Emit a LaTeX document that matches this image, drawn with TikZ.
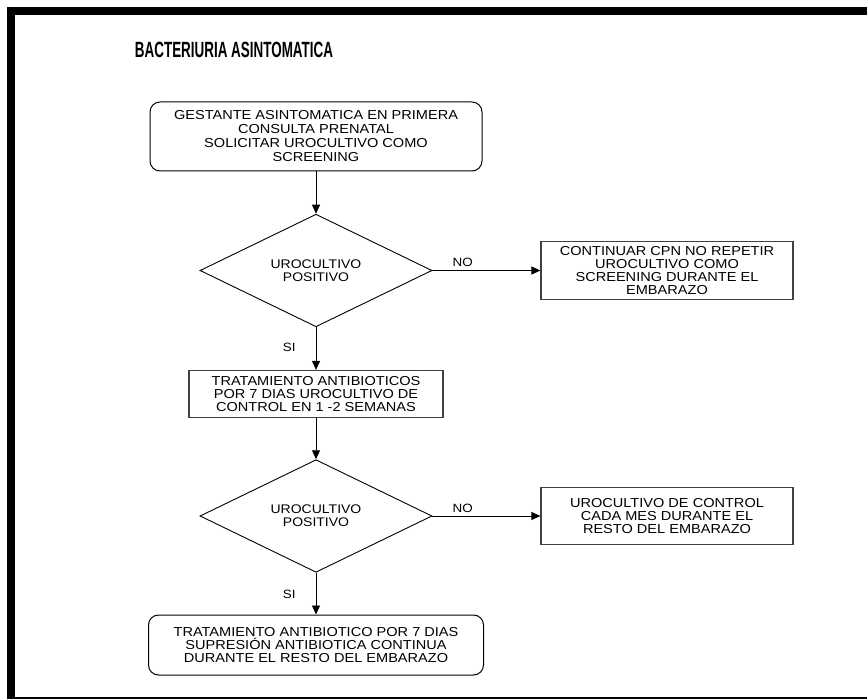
\documentclass[tikz,border=0pt]{standalone}
\usepackage{fontspec}
\setmainfont{Liberation Sans}
\newfontfamily\letraancha[FakeStretch=1.12]{Liberation Sans}
\usetikzlibrary{shapes.geometric,arrows.meta}

\tikzset{
  paso/.style={draw=black!75, line width=1.2pt, align=center, inner sep=0pt,
    font=\letraancha\fontsize{13}{13}\selectfont},
  pasoredondo/.style={paso, draw=black, line width=1pt, rounded corners=10pt},
  decision/.style={draw, diamond, line width=0.9pt, align=center, inner sep=0pt,
    minimum width=232pt, minimum height=105pt, font=\letraancha\fontsize{12.5}{13}\selectfont},
  flecha/.style={-{Triangle[length=9pt,width=8pt]}, line width=0.9pt},
  etiqueta/.style={inner sep=0pt, font=\letraancha\fontsize{12}{12}\selectfont}
}

\begin{document}
\begin{tikzpicture}[x=1pt, y=-1pt]
\useasboundingbox (0,0) rectangle (867,700);
% marco
\fill (7,7) rectangle (867,15);
\fill (7,7) rectangle (15,698);
\fill (7,696.5) rectangle (867,698.5);

\node (titulo) at (234,50) {\scalebox{0.64}[1.05]{\fontsize{21}{21}\selectfont\bfseries BACTERIURIA ASINTOMATICA}};

\node [pasoredondo, minimum width=332pt, minimum height=69pt, font=\letraancha\fontsize{13}{14}\selectfont] (inicio) at (316,136.5)
  {GESTANTE ASINTOMATICA EN PRIMERA\\CONSULTA PRENATAL\\SOLICITAR UROCULTIVO COMO\\SCREENING};
\node [decision] (dec1) at (316,270.5) {UROCULTIVO\\POSITIVO};
\node [paso, minimum width=252pt, minimum height=58pt] (cpn) at (667,270.5)
  {CONTINUAR CPN NO REPETIR\\UROCULTIVO COMO\\SCREENING DURANTE EL\\EMBARAZO};
\node [paso, minimum width=254pt, minimum height=47pt] (trat1) at (316,394)
  {TRATAMIENTO ANTIBIOTICOS\\POR 7 DIAS UROCULTIVO DE\\CONTROL EN 1 -2 SEMANAS};
\node [decision] (dec2) at (316,516) {UROCULTIVO\\POSITIVO};
\node [paso, minimum width=252pt, minimum height=57pt] (control) at (667,516)
  {UROCULTIVO DE CONTROL\\CADA MES DURANTE EL\\RESTO DEL EMBARAZO};
\node [pasoredondo, minimum width=335pt, minimum height=60pt] (trat2) at (316,645)
  {TRATAMIENTO ANTIBIOTICO POR 7 DIAS\\SUPRESIÓN ANTIBIOTICA CONTINUA\\DURANTE EL RESTO DEL EMBARAZO};

\draw[flecha] (inicio) -- (dec1);
\draw[flecha] (dec1) -- node[etiqueta, pos=0.28, above=3pt]{NO} (cpn);
\draw[flecha] (dec1) -- node[etiqueta, pos=0.47, left=20pt]{SI} (trat1);
\draw[flecha] (trat1) -- (dec2);
\draw[flecha] (dec2) -- node[etiqueta, pos=0.28, above=3pt]{NO} (control);
\draw[flecha] (dec2) -- node[etiqueta, pos=0.52, left=20pt]{SI} (trat2);
\end{tikzpicture}
\end{document}
